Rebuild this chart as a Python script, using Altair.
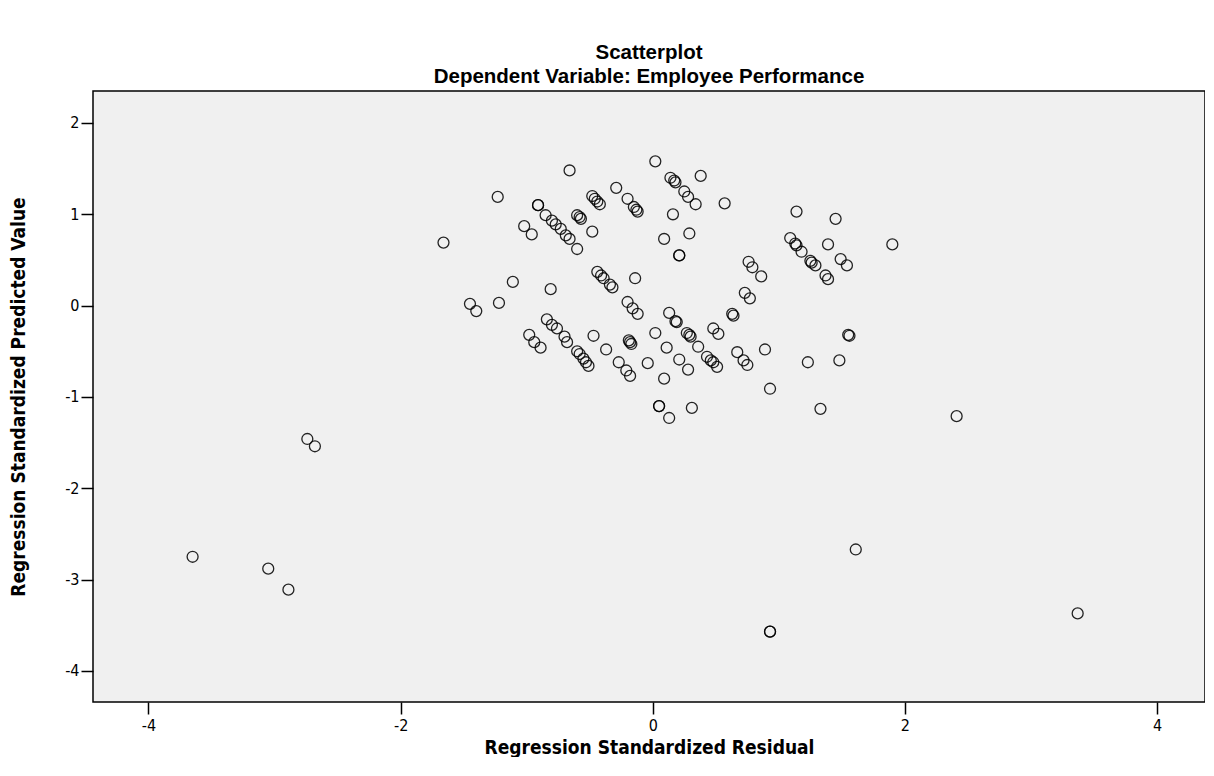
import altair as alt
import pandas as pd

# Regression standardized residual (x) and predicted value (y)
residual = [
    -1.66, -1.23, -1.02, -0.96, -0.91, -0.91, -0.85, -0.80, -0.77, -0.73, -0.69, -0.66, -0.60,
    -0.60, -0.58, -0.57, -0.48, -0.66, -0.48, -0.46, -0.44, -0.42, -0.29, -0.20, -0.15, -0.13,
    -0.12, 0.02, 0.14, 0.17, 0.18, 0.38, 0.25, 0.28, 0.34, 0.57, 0.16, 0.09, 0.29, 0.21, 0.21,
    1.14, 1.45, 1.09, 1.13, 1.14, 1.18, 1.25, 1.26, 1.29, 1.39, 1.90, 0.76, 0.79, 0.86, 1.49,
    1.54, 1.37, 1.39, 0.73, 0.77,
    -1.11, -0.81, -1.45, -1.40, -1.22, -0.44, -0.41, -0.39, -0.34, -0.32, -0.14, -0.20, -0.16,
    -0.12, 0.13, 0.18, 0.19, 0.63, 0.64, 0.02, 0.27, 0.29, 0.30, 0.36, 0.48, 0.52, 1.55, 1.56,
    -0.84, -0.80, -0.76, -0.70, -0.68, -0.98, -0.94, -0.89, -0.60, -0.58, -0.55, -0.53, -0.51,
    -0.47, -0.37, -0.27, -0.21, -0.18, -0.19, -0.18, -0.17, -0.04, 0.11, 0.21, 0.28, 0.43, 0.46,
    0.48, 0.51, 0.67, 0.72, 0.75, 0.89, 1.23, 1.48, 0.09, 0.93, 0.05, 0.05, 0.13, 0.31, 1.33,
    -2.74, -2.68, -3.65, -3.05, -2.89, 0.93, 0.93, 1.61, 2.41, 3.37,
]
predicted = [
    0.69, 1.19, 0.87, 0.78, 1.10, 1.10, 0.99, 0.93, 0.89, 0.84, 0.77, 0.73, 0.62,
    0.99, 0.97, 0.95, 0.81, 1.48, 1.20, 1.17, 1.14, 1.11, 1.29, 1.17, 1.08, 1.05,
    1.03, 1.58, 1.40, 1.37, 1.35, 1.42, 1.25, 1.19, 1.11, 1.12, 1.00, 0.73, 0.79, 0.55, 0.55,
    1.03, 0.95, 0.74, 0.68, 0.66, 0.59, 0.49, 0.47, 0.44, 0.67, 0.67, 0.48, 0.42, 0.32, 0.51,
    0.44, 0.33, 0.29, 0.14, 0.08,
    0.26, 0.18, 0.02, -0.06, 0.03, 0.37, 0.33, 0.30, 0.23, 0.20, 0.30, 0.04, -0.03,
    -0.09, -0.08, -0.17, -0.18, -0.09, -0.11, -0.30, -0.30, -0.32, -0.34, -0.45, -0.25, -0.31, -0.32, -0.33,
    -0.15, -0.21, -0.25, -0.34, -0.40, -0.32, -0.40, -0.46, -0.50, -0.53, -0.58, -0.62, -0.66,
    -0.33, -0.48, -0.62, -0.71, -0.77, -0.38, -0.40, -0.42, -0.63, -0.46, -0.59, -0.70, -0.56, -0.60,
    -0.62, -0.67, -0.51, -0.60, -0.65, -0.48, -0.62, -0.60, -0.80, -0.91, -1.10, -1.10, -1.23, -1.12, -1.13,
    -1.46, -1.54, -2.75, -2.88, -3.11, -3.57, -3.57, -2.67, -1.21, -3.37,
]

x_ticks = [-4, -2, 0, 2, 4]
y_ticks = [-4, -3, -2, -1, 0, 1, 2]

df = pd.DataFrame({"residual": residual, "predicted": predicted})

NARROW = "Liberation Sans Narrow, DejaVu Sans Condensed, Arial Narrow, sans-serif"

chart = (
    alt.Chart(df)
    .mark_point(shape="circle", filled=False, color="black", size=120, strokeWidth=1.3, opacity=0.85)
    .encode(
        x=alt.X(
            "residual:Q",
            title="Regression Standardized Residual",
            scale=alt.Scale(domain=[-4.44, 4.38], nice=False, zero=False),
            axis=alt.Axis(values=x_ticks, labelExpr="'' + datum.value", grid=False,
                          tickSize=12, labelPadding=3, titlePadding=5),
        ),
        y=alt.Y(
            "predicted:Q",
            title="Regression Standardized Predicted Value",
            scale=alt.Scale(domain=[-4.34, 2.35], nice=False, zero=False),
            axis=alt.Axis(values=y_ticks, labelExpr="'' + datum.value", grid=False,
                          tickSize=12, labelPadding=2, titlePadding=36),
        ),
    )
    .properties(
        width=1112,
        height=611,
        background="white",
        title=alt.TitleParams(
            text=["Scatterplot", "Dependent Variable: Employee Performance"],
            fontSize=20.5,
            font="Liberation Sans, Arial, sans-serif",
            fontWeight="bold",
            color="black",
            lineHeight=24,
            anchor="middle",
            offset=4,
        ),
        padding={"left": 1, "top": 34, "right": 0, "bottom": 0},
    )
    .configure_view(fill="#F0F0F0", stroke="black", strokeWidth=1.5)
    .configure_axis(
        domain=False,
        tickColor="black",
        tickWidth=1.5,
        labelColor="black",
        labelFont=NARROW,
        labelFontSize=16,
        titleFont=NARROW,
        titleFontSize=19,
        titleFontWeight="bold",
        titleColor="black",
    )
)

chart.save("out.html", embed_options={"renderer": "svg", "actions": False})
